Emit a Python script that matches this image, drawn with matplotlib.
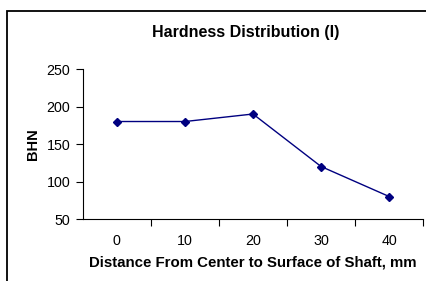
import matplotlib
matplotlib.use("Agg")
import matplotlib.pyplot as plt
from matplotlib.patches import Rectangle

plt.rcParams['font.family'] = ['Liberation Sans', 'DejaVu Sans']

distance = ['0', '10', '20', '30', '40']
bhn = [180, 180, 190, 120, 80]

fig = plt.figure(figsize=(4.27, 2.81), dpi=100)
ax = fig.add_axes([0.194, 0.2206, 0.797, 0.5338])

# chart border (cropped on the right and bottom)
fig.patches.append(Rectangle((7 / 427, -0.1), 1.2, 1 - 10.5 / 281 + 0.1,
                             transform=fig.transFigure, fill=False,
                             edgecolor='black', linewidth=1.3))

x = list(range(len(distance)))
ax.plot(x, bhn, color='#000080', linewidth=1, marker='D', markersize=4.5,
        markerfacecolor='#000080', markeredgecolor='#000080')

ax.set_xlim(-0.5, len(distance) - 0.5)
ax.set_ylim(50, 250)
ax.set_yticks([50, 100, 150, 200, 250])

ax.set_xticks([i + 0.5 for i in x])
ax.set_xticklabels([])
ax.set_xticks(x, minor=True)
ax.set_xticklabels(distance, minor=True)
ax.tick_params(axis='x', which='major', direction='out', length=5, width=0.8)
ax.tick_params(axis='x', which='minor', length=0, pad=11, labelsize=10.3)
ax.tick_params(axis='y', direction='out', length=5, width=0.8, pad=4, labelsize=10.3)

ax.spines['top'].set_visible(False)
ax.spines['right'].set_visible(False)
ax.spines['left'].set_linewidth(0.8)
ax.spines['bottom'].set_linewidth(0.8)

fig.text(246 / 427, 1 - 32 / 281, 'Hardness Distribution (I)', ha='center',
         va='center', fontsize=11.5, fontweight='bold')
ax.set_xlabel('Distance From Center to Surface of Shaft, mm', fontsize=10.8,
              fontweight='bold', labelpad=5)
ax.set_ylabel('BHN', fontsize=10.5, fontweight='bold', labelpad=5)

plt.savefig('out.png', dpi=100)
